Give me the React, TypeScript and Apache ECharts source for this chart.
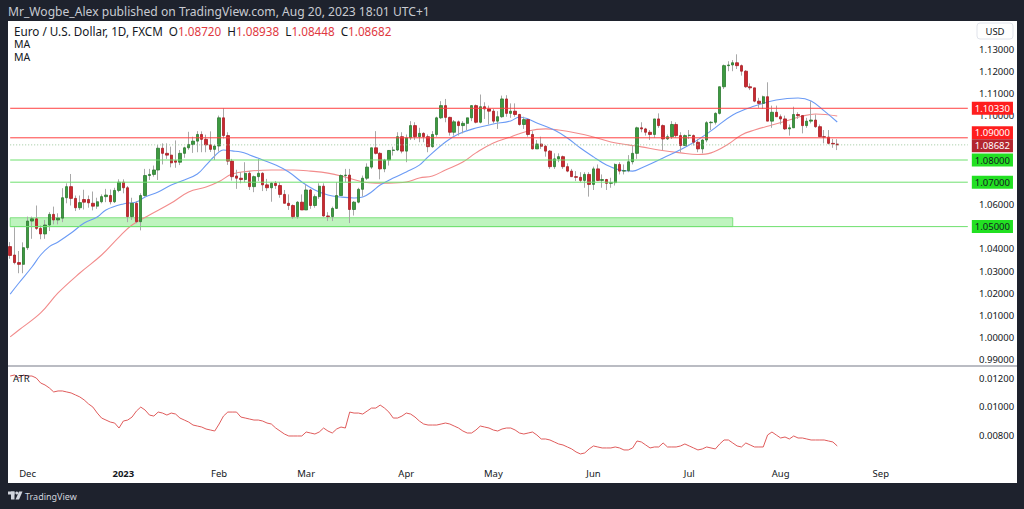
import React, { useEffect, useRef } from "react";
import * as echarts from "echarts";

// ---------- data ----------
const FIRST_DAY = "2022-11-25";
const SLOT_COUNT = 221; // trading days shown + empty future space on the time scale

// daily candles [open, high, low, close]
const nov22 = [
  [1.0410, 1.0430, 1.0355, 1.0370], [1.0372, 1.0497, 1.0330, 1.0338], [1.0338, 1.0390, 1.0290, 1.0330], [1.0330, 1.0429, 1.0290, 1.0405],
];
const dec22 = [
  [1.0405, 1.0545, 1.0395, 1.0525], [1.0525, 1.0545, 1.0445, 1.0535], [1.0535, 1.0595, 1.0485, 1.0492], [1.0492, 1.0505, 1.0443, 1.0467],
  [1.0467, 1.0530, 1.0445, 1.0507], [1.0507, 1.0565, 1.0480, 1.0555], [1.0555, 1.0590, 1.0510, 1.0530], [1.0530, 1.0560, 1.0510, 1.0538],
  [1.0538, 1.0673, 1.0520, 1.0630], [1.0630, 1.0695, 1.0605, 1.0680], [1.0680, 1.0737, 1.0595, 1.0627], [1.0627, 1.0640, 1.0570, 1.0585],
  [1.0585, 1.0640, 1.0575, 1.0608], [1.0622, 1.0666, 1.0577, 1.0610], [1.0622, 1.0640, 1.0585, 1.0607], [1.0605, 1.0658, 1.0573, 1.0592],
  [1.0592, 1.0630, 1.0580, 1.0612], [1.0612, 1.0645, 1.0605, 1.0635], [1.0635, 1.0670, 1.0610, 1.0642], [1.0640, 1.0667, 1.0600, 1.0612],
  [1.0612, 1.0675, 1.0606, 1.0663], [1.0663, 1.0713, 1.0655, 1.0700],
];
const jan23 = [
  [1.0700, 1.0713, 1.0650, 1.0675], [1.0675, 1.0683, 1.0520, 1.0545], [1.0545, 1.0630, 1.0530, 1.0605], [1.0605, 1.0615, 1.0515, 1.0522],
  [1.0522, 1.0650, 1.0483, 1.0640], [1.0640, 1.0760, 1.0635, 1.0730], [1.0730, 1.0760, 1.0710, 1.0735], [1.0735, 1.0775, 1.0725, 1.0755],
  [1.0755, 1.0868, 1.0710, 1.0853], [1.0853, 1.0875, 1.0780, 1.0830], [1.0830, 1.0875, 1.0805, 1.0822], [1.0822, 1.0860, 1.0767, 1.0787],
  [1.0797, 1.0888, 1.0765, 1.0790], [1.0790, 1.0845, 1.0777, 1.0830], [1.0830, 1.0860, 1.0810, 1.0855], [1.0855, 1.0927, 1.0846, 1.0870],
  [1.0870, 1.0905, 1.0832, 1.0885], [1.0885, 1.0930, 1.0835, 1.0915], [1.0915, 1.0929, 1.0835, 1.0893], [1.0893, 1.0914, 1.0835, 1.0868],
  [1.0868, 1.0929, 1.0836, 1.0848], [1.0848, 1.0870, 1.0800, 1.0863],
];
const feb23 = [
  [1.0863, 1.1000, 1.0838, 1.0990], [1.0990, 1.1033, 1.0897, 1.0910], [1.0910, 1.0925, 1.0778, 1.0795], [1.0795, 1.0805, 1.0707, 1.0725],
  [1.0728, 1.0756, 1.0670, 1.0718], [1.0718, 1.0745, 1.0695, 1.0712], [1.0712, 1.0790, 1.0700, 1.0740], [1.0740, 1.0750, 1.0665, 1.0680],
  [1.0680, 1.0730, 1.0655, 1.0725], [1.0725, 1.0805, 1.0705, 1.0740], [1.0740, 1.0745, 1.0660, 1.0688], [1.0688, 1.0715, 1.0660, 1.0675],
  [1.0675, 1.0700, 1.0612, 1.0695], [1.0695, 1.0705, 1.0670, 1.0685], [1.0685, 1.0700, 1.0630, 1.0645], [1.0645, 1.0665, 1.0605, 1.0605],
  [1.0605, 1.0645, 1.0575, 1.0595], [1.0595, 1.0600, 1.0535, 1.0545], [1.0545, 1.0615, 1.0535, 1.0610], [1.0610, 1.0645, 1.0575, 1.0575],
];
const mar23 = [
  [1.0575, 1.0690, 1.0575, 1.0665], [1.0665, 1.0670, 1.0580, 1.0595], [1.0595, 1.0645, 1.0585, 1.0635], [1.0635, 1.0695, 1.0625, 1.0682],
  [1.0682, 1.0695, 1.0545, 1.0548], [1.0548, 1.0565, 1.0525, 1.0545], [1.0545, 1.0590, 1.0525, 1.0582], [1.0582, 1.0700, 1.0580, 1.0640],
  [1.0640, 1.0735, 1.0640, 1.0730], [1.0730, 1.0760, 1.0700, 1.0732], [1.0732, 1.0760, 1.0516, 1.0577], [1.0577, 1.0615, 1.0550, 1.0610],
  [1.0610, 1.0675, 1.0605, 1.0668], [1.0668, 1.0730, 1.0635, 1.0718], [1.0718, 1.0785, 1.0710, 1.0768], [1.0768, 1.0855, 1.0760, 1.0855],
  [1.0855, 1.0930, 1.0825, 1.0830], [1.0830, 1.0835, 1.0713, 1.0760], [1.0760, 1.0805, 1.0745, 1.0800], [1.0800, 1.0845, 1.0775, 1.0843],
  [1.0843, 1.0860, 1.0820, 1.0845], [1.0845, 1.0925, 1.0840, 1.0905], [1.0905, 1.0925, 1.0830, 1.0840],
];
const apr23 = [
  [1.0840, 1.0915, 1.0790, 1.0900], [1.0900, 1.0975, 1.0890, 1.0955], [1.0955, 1.0970, 1.0890, 1.0905], [1.0905, 1.0945, 1.0880, 1.0920],
  [1.0920, 1.0925, 1.0880, 1.0905], [1.0905, 1.0915, 1.0835, 1.0860], [1.0860, 1.0930, 1.0855, 1.0915], [1.0915, 1.0995, 1.0905, 1.0990],
  [1.0990, 1.1065, 1.0985, 1.1045], [1.1045, 1.1075, 1.0970, 1.0992], [1.0992, 1.0995, 1.0910, 1.0925], [1.0925, 1.0980, 1.0910, 1.0972],
  [1.0972, 1.0978, 1.0910, 1.0955], [1.0955, 1.0975, 1.0920, 1.0965], [1.0965, 1.0990, 1.0935, 1.0990], [1.0990, 1.1047, 1.0975, 1.1045],
  [1.1045, 1.1050, 1.0965, 1.0970], [1.0970, 1.1095, 1.0965, 1.1040], [1.1040, 1.1060, 1.0985, 1.1030], [1.1030, 1.1045, 1.0960, 1.1020],
];
const may23 = [
  [1.1020, 1.1030, 1.0965, 1.0975], [1.0975, 1.1020, 1.0940, 1.0995], [1.0995, 1.1090, 1.0990, 1.1075], [1.1075, 1.1092, 1.0995, 1.1010],
  [1.1010, 1.1055, 1.0990, 1.1020], [1.1020, 1.1055, 1.0995, 1.1005], [1.1005, 1.1008, 1.0955, 1.0960], [1.0960, 1.0995, 1.0940, 1.0982],
  [1.0982, 1.0985, 1.0905, 1.0915], [1.0915, 1.0930, 1.0848, 1.0850], [1.0850, 1.0890, 1.0850, 1.0872], [1.0872, 1.0905, 1.0850, 1.0862],
  [1.0862, 1.0868, 1.0815, 1.0840], [1.0840, 1.0845, 1.0760, 1.0770], [1.0770, 1.0830, 1.0760, 1.0805], [1.0805, 1.0830, 1.0790, 1.0815],
  [1.0815, 1.0820, 1.0760, 1.0770], [1.0770, 1.0785, 1.0745, 1.0750], [1.0750, 1.0760, 1.0725, 1.0725], [1.0725, 1.0750, 1.0705, 1.0722],
  [1.0722, 1.0745, 1.0700, 1.0708], [1.0708, 1.0745, 1.0675, 1.0735], [1.0735, 1.0745, 1.0635, 1.0690],
];
const jun23 = [
  [1.0690, 1.0770, 1.0665, 1.0760], [1.0760, 1.0780, 1.0705, 1.0708], [1.0708, 1.0735, 1.0675, 1.0712], [1.0712, 1.0715, 1.0665, 1.0695],
  [1.0695, 1.0720, 1.0675, 1.0698], [1.0698, 1.0785, 1.0685, 1.0780], [1.0780, 1.0790, 1.0735, 1.0750], [1.0750, 1.0780, 1.0735, 1.0752],
  [1.0752, 1.0822, 1.0745, 1.0792], [1.0792, 1.0865, 1.0780, 1.0830], [1.0830, 1.0950, 1.0805, 1.0945], [1.0945, 1.0970, 1.0925, 1.0940],
  [1.0940, 1.0945, 1.0910, 1.0925], [1.0925, 1.0935, 1.0890, 1.0915], [1.0915, 1.0985, 1.0900, 1.0985], [1.0985, 1.1010, 1.0945, 1.0955],
  [1.0955, 1.0960, 1.0845, 1.0895], [1.0895, 1.0915, 1.0890, 1.0905], [1.0905, 1.0975, 1.0895, 1.0960], [1.0960, 1.0970, 1.0900, 1.0910],
  [1.0910, 1.0925, 1.0835, 1.0865], [1.0865, 1.0915, 1.0865, 1.0910],
];
const jul23 = [
  [1.0910, 1.0935, 1.0895, 1.0912], [1.0910, 1.0915, 1.0865, 1.0880], [1.0880, 1.0895, 1.0835, 1.0850], [1.0850, 1.0895, 1.0830, 1.0890],
  [1.0890, 1.0975, 1.0880, 1.0968], [1.0968, 1.0975, 1.0935, 1.0970], [1.0970, 1.1015, 1.0960, 1.1010], [1.1010, 1.1130, 1.1005, 1.1130],
  [1.1130, 1.1230, 1.1120, 1.1225], [1.1225, 1.1245, 1.1200, 1.1228], [1.1228, 1.1250, 1.1200, 1.1238], [1.1238, 1.1276, 1.1210, 1.1225],
  [1.1225, 1.1230, 1.1180, 1.1200], [1.1200, 1.1205, 1.1125, 1.1130], [1.1130, 1.1145, 1.1115, 1.1125], [1.1125, 1.1125, 1.1060, 1.1065],
  [1.1065, 1.1080, 1.1035, 1.1055], [1.1055, 1.1090, 1.1030, 1.1085], [1.1085, 1.1150, 1.0975, 1.0975], [1.0975, 1.1045, 1.0945, 1.1015],
  [1.1015, 1.1045, 1.0995, 1.0995],
];
const aug23 = [
  [1.0995, 1.1005, 1.0960, 1.0985], [1.0985, 1.1000, 1.0935, 1.0940], [1.0940, 1.0960, 1.0910, 1.0945], [1.0945, 1.1040, 1.0945, 1.1005],
  [1.1005, 1.1015, 1.0985, 1.1000], [1.1000, 1.1000, 1.0920, 1.0955], [1.0955, 1.0990, 1.0945, 1.0975], [1.0975, 1.1065, 1.0965, 1.0980],
  [1.0980, 1.1005, 1.0945, 1.0950], [1.0950, 1.0960, 1.0905, 1.0905], [1.0905, 1.0935, 1.0875, 1.0903], [1.0903, 1.0935, 1.0870, 1.0875],
  [1.0875, 1.0895, 1.0855, 1.0872], [1.08720, 1.08938, 1.08448, 1.08682],
];

// ATR per trading day
const atrNovDec = [0.01214, 0.01221, 0.01200, 0.01221,
  0.01214, 0.01214, 0.01200, 0.01165, 0.01151, 0.01130, 0.01102, 0.01109, 0.01109, 0.01102, 0.01095,
  0.01081, 0.01067, 0.01046, 0.01018, 0.00996, 0.00954, 0.00919, 0.00905, 0.00891, 0.00884, 0.00849];
const atrJanFeb = [0.00898, 0.00905, 0.00926, 0.00968, 0.00996, 0.00975, 0.00940, 0.00933, 0.00961, 0.00954, 0.00940,
  0.00954, 0.00947, 0.00919, 0.00905, 0.00891, 0.00870, 0.00863, 0.00856, 0.00842, 0.00835, 0.00828,
  0.00877, 0.00933, 0.00961, 0.00961, 0.00961, 0.00926, 0.00919, 0.00912, 0.00905, 0.00905, 0.00898, 0.00884,
  0.00877, 0.00849, 0.00828, 0.00807, 0.00793, 0.00793, 0.00793, 0.00793];
const atrMarApr = [0.00821, 0.00814, 0.00807, 0.00821, 0.00849, 0.00828, 0.00814, 0.00842, 0.00856, 0.00849, 0.00961,
  0.00954, 0.00954, 0.00947, 0.00968, 0.00989, 0.00989, 0.01010, 0.00989, 0.00961, 0.00919, 0.00919, 0.00933,
  0.00954, 0.00947, 0.00926, 0.00898, 0.00877, 0.00870, 0.00870, 0.00870, 0.00877, 0.00884, 0.00877, 0.00863,
  0.00849, 0.00828, 0.00814, 0.00814, 0.00835, 0.00863, 0.00856, 0.00849];
const atrMayJun = [0.00835, 0.00828, 0.00842, 0.00849, 0.00849, 0.00835, 0.00814, 0.00807, 0.00814, 0.00821, 0.00800,
  0.00772, 0.00772, 0.00765, 0.00751, 0.00737, 0.00730, 0.00716, 0.00702, 0.00681, 0.00667, 0.00674, 0.00702,
  0.00723, 0.00716, 0.00709, 0.00709, 0.00709, 0.00716, 0.00709, 0.00695, 0.00695, 0.00709, 0.00758, 0.00751,
  0.00730, 0.00709, 0.00716, 0.00716, 0.00744, 0.00716, 0.00716, 0.00716, 0.00723, 0.00737];
const atrJulAug = [0.00723, 0.00709, 0.00695, 0.00702, 0.00716, 0.00709, 0.00702, 0.00737, 0.00765, 0.00765, 0.00744,
  0.00723, 0.00716, 0.00744, 0.00730, 0.00716, 0.00716, 0.00716, 0.00800, 0.00821, 0.00800,
  0.00779, 0.00786, 0.00772, 0.00793, 0.00779, 0.00779, 0.00772, 0.00765, 0.00765, 0.00765, 0.00765, 0.00758,
  0.00751, 0.00723];

// moving averages: [bar index, value]
const maFast = [[0, 1.0196], [2, 1.0246], [5, 1.0318], [7, 1.0372], [9, 1.0410], [11, 1.0431], [14, 1.0471], [17, 1.0516],
  [20, 1.0543], [22, 1.0575], [26, 1.0602], [29, 1.0611], [31, 1.0633], [34, 1.0656], [37, 1.0687], [40, 1.0710],
  [43, 1.0737], [45, 1.0777], [47, 1.0818], [49, 1.0845], [51, 1.0841], [53, 1.0836], [55, 1.0823], [58, 1.0800],
  [61, 1.0777], [64, 1.0746], [67, 1.0701], [70, 1.0665], [73, 1.0642], [76, 1.0633], [79, 1.0629], [81, 1.0633],
  [83, 1.0656], [85, 1.0687], [88, 1.0719], [91, 1.0746], [94, 1.0777], [96, 1.0814], [100, 1.0881], [103, 1.0917],
  [107, 1.0944], [111, 1.0962], [115, 1.0976], [117, 1.0994], [119, 1.0985], [121, 1.0967], [125, 1.0935], [128, 1.0899],
  [131, 1.0854], [134, 1.0814], [137, 1.0777], [140, 1.0755], [143, 1.0750], [145, 1.0764], [150, 1.0809], [156, 1.0868],
  [161, 1.0931], [166, 1.1003], [171, 1.1043], [176, 1.1070], [181, 1.1079], [184, 1.1066], [187, 1.1021], [190, 1.0971]];
const maSlow = [[0, 1.0003], [2, 1.0034], [7, 1.0111], [11, 1.0201], [16, 1.0291], [21, 1.0372], [25, 1.0453], [28, 1.0507],
  [32, 1.0552], [37, 1.0606], [41, 1.0656], [45, 1.0678], [48, 1.0703], [51, 1.0737], [55, 1.0750], [60, 1.0755],
  [65, 1.0755], [69, 1.0750], [73, 1.0741], [77, 1.0723], [81, 1.0701], [84, 1.0696], [87, 1.0696], [91, 1.0701],
  [94, 1.0719], [97, 1.0728], [100, 1.0755], [104, 1.0791], [107, 1.0832], [111, 1.0877], [115, 1.0904], [119, 1.0931],
  [123, 1.0940], [126, 1.0935], [130, 1.0922], [134, 1.0904], [138, 1.0881], [142, 1.0868], [145, 1.0859], [149, 1.0845],
  [154, 1.0832], [158, 1.0825], [161, 1.0832], [165, 1.0872], [168, 1.0913], [171, 1.0935], [175, 1.0958], [179, 1.0980],
  [182, 1.0998], [185, 1.1007], [190, 1.0998]];

// drawn levels
const resistanceLevels = [1.1033, 1.09];
const supportLevels = [1.08, 1.07, 1.05];
const supportZone = { from: 1.05, to: 1.054, endBar: 166 };
const priceTicks = { min: 0.98, max: 1.15, step: 0.01, shownMin: 0.99, shownMax: 1.13 };
const atrTicks = { min: 0.006, max: 0.014, step: 0.002, shownMin: 0.008, shownMax: 0.012 };
const MONTHS = ["Jan", "Feb", "Mar", "Apr", "May", "Jun", "Jul", "Aug", "Sep", "Oct", "Nov", "Dec"];

// ---------- helpers ----------
function weekdaySlots(first: string, count: number): string[] {
  const out: string[] = [];
  const d = new Date(first + "T00:00:00Z");
  while (out.length < count) {
    const wd = d.getUTCDay();
    if (wd !== 0 && wd !== 6) out.push(d.toISOString().slice(0, 10));
    d.setUTCDate(d.getUTCDate() + 1);
  }
  return out;
}

const FONT = "'Noto Sans', 'DejaVu Sans', sans-serif";
const UP = "#3d9a40";
const UP_B = "#2c7a30";
const DOWN = "#c9282f";
const DOWN_B = "#a81e25";
const RED_LINE = "#ff4040";
const GREEN_LINE = "#6fe06f";

function buildOption() {
  const dates = weekdaySlots(FIRST_DAY, SLOT_COUNT);
  const firstDate = dates[0];
  const lastDate = dates[dates.length - 1];
  const candles = [...nov22, ...dec22, ...jan23, ...feb23, ...mar23, ...apr23, ...may23, ...jun23, ...jul23, ...aug23];
  const atr = [...atrNovDec, ...atrJanFeb, ...atrMarApr, ...atrMayJun, ...atrJulAug];
  const last = candles[candles.length - 1];

  const wickData = candles.map(([o, h, l, c]) => [o, c, l, h]);
  const bodyData = candles.map(([o, , , c]) => [o, c, Math.min(o, c), Math.max(o, c)]);

  const isMonthStart = (i: number) => i > 0 && dates[i].slice(5, 7) !== dates[i - 1].slice(5, 7);

  // price-scale ticks hidden behind a level's price box (as on the reference)
  const boxedLevels = [1.09, ...supportLevels];

  // a horizontal level drawn as a two-point line series, with its price box as the end label
  const level = (v: number, color: string, type: any, bg: string, fg: string, dy: number, z: number) => ({
    name: "level " + v,
    type: "line",
    xAxisIndex: 0,
    yAxisIndex: 0,
    data: [[firstDate, v], [lastDate, v]],
    showSymbol: false,
    silent: true,
    z,
    lineStyle: { color, width: 1, type },
    endLabel: {
      show: true,
      distance: 4,
      formatter: () => v.toFixed(5),
      backgroundColor: bg,
      color: fg,
      fontFamily: FONT,
      fontSize: 9.5,
      padding: [2, 3, 1, 3],
      offset: [0, dy],
    },
  });

  const priceFmt = (t: any, hidden: number[]) => (v: number) => {
    if (v < t.shownMin - 1e-9 || v > t.shownMax + 1e-9) return "";
    if (hidden.some((h) => Math.abs(h - v) < 1e-6)) return "";
    return v.toFixed(5);
  };

  const gridLeft = 8;
  const gridWidth = 962;

  return {
    animation: false,
    backgroundColor: "#1e222d",
    textStyle: { fontFamily: FONT },
    grid: [
      { left: gridLeft, width: gridWidth, top: 4.6, height: 377.4 },
      { left: gridLeft, width: gridWidth, top: 349.5, height: 114 },
    ],
    xAxis: [
      { type: "category", gridIndex: 0, data: dates, boundaryGap: true, show: false },
      {
        type: "category",
        gridIndex: 1,
        data: dates,
        boundaryGap: true,
        axisLine: { show: false },
        axisTick: { show: false },
        splitLine: { show: false },
        axisLabel: {
          interval: (i: number) => isMonthStart(i),
          margin: 5,
          color: "#131722",
          fontSize: 9.5,
          fontFamily: FONT,
          formatter: (v: string) => {
            const m = +v.slice(5, 7);
            return m === 1 ? "{y|" + v.slice(0, 4) + "}" : MONTHS[m - 1];
          },
          rich: { y: { fontWeight: "bold", fontSize: 9.5, color: "#131722", fontFamily: FONT } },
        },
      },
    ],
    yAxis: [
      {
        type: "value",
        gridIndex: 0,
        position: "right",
        min: priceTicks.min,
        max: priceTicks.max,
        interval: priceTicks.step,
        axisLine: { show: false },
        axisTick: { show: false },
        splitLine: { show: false },
        axisLabel: { margin: 9, color: "#131722", fontSize: 9.5, fontFamily: FONT, formatter: priceFmt(priceTicks, boxedLevels) },
      },
      {
        type: "value",
        gridIndex: 1,
        position: "right",
        min: atrTicks.min,
        max: atrTicks.max,
        interval: atrTicks.step,
        axisLine: { show: false },
        axisTick: { show: false },
        splitLine: { show: false },
        axisLabel: { margin: 9, color: "#131722", fontSize: 9.5, fontFamily: FONT, formatter: priceFmt(atrTicks, []) },
      },
    ],
    series: [
      {
        name: "zone",
        type: "line",
        xAxisIndex: 0,
        yAxisIndex: 0,
        data: [],
        markArea: {
          silent: true,
          itemStyle: { color: "rgba(110, 230, 110, 0.45)", borderColor: "rgba(90, 215, 90, 0.7)", borderWidth: 1 },
          data: [[{ xAxis: firstDate, yAxis: supportZone.from }, { xAxis: dates[supportZone.endBar], yAxis: supportZone.to }]],
        },
      },
      ...supportLevels.map((v) => level(v, GREEN_LINE, "solid", "#22e022", "#131722", 0, 6)),
      ...resistanceLevels.map((v, k) => level(v, RED_LINE, "solid", "#ff1e1e", "#ffffff", k === 1 ? -5 : 0, 7)),
      level(last[3], "#9cc79c", [1, 2], "#b3262f", "#ffffff", 1, 8),
      {
        name: "MA slow",
        type: "line",
        xAxisIndex: 0,
        yAxisIndex: 0,
        data: maSlow.map(([i, v]) => [dates[i], v]),
        smooth: 0.4,
        showSymbol: false,
        lineStyle: { color: "#f28c8c", width: 1.1 },
        z: 3,
      },
      {
        name: "MA fast",
        type: "line",
        xAxisIndex: 0,
        yAxisIndex: 0,
        data: maFast.map(([i, v]) => [dates[i], v]),
        smooth: 0.4,
        showSymbol: false,
        lineStyle: { color: "#6b9bf5", width: 1.1 },
        z: 3,
      },
      {
        name: "wicks",
        type: "candlestick",
        xAxisIndex: 0,
        yAxisIndex: 0,
        data: wickData,
        barWidth: 0.6,
        itemStyle: { color: "#a8a8a8", color0: "#a8a8a8", borderColor: "#a8a8a8", borderColor0: "#a8a8a8", borderWidth: 1 },
        z: 4,
      },
      {
        name: "EURUSD",
        type: "candlestick",
        xAxisIndex: 0,
        yAxisIndex: 0,
        data: bodyData,
        barWidth: 2.9,
        itemStyle: { color: UP, color0: DOWN, borderColor: UP_B, borderColor0: DOWN_B, borderWidth: 0.8 },
        z: 5,
      },
      {
        name: "ATR",
        type: "line",
        xAxisIndex: 1,
        yAxisIndex: 1,
        data: atr,
        showSymbol: false,
        lineStyle: { color: "#e05c5c", width: 1 },
        z: 3,
      },
    ],
    graphic: [
      { type: "rect", z: -10, shape: { x: 8, y: 21, width: 1009, height: 462 }, style: { fill: "#ffffff" } },
      { type: "line", z: 50, shape: { x1: 8, y1: 366, x2: 1017, y2: 366 }, style: { stroke: "#a3a6af", lineWidth: 1.5 } },
      {
        type: "text", z: 50, x: 8, y: 11,
        style: { text: "Mr_Wogbe_Alex published on TradingView.com, Aug 20, 2023 18:01 UTC+1", fill: "#c8cbd2", font: `12.1px ${FONT}`, verticalAlign: "middle" },
      },
      {
        type: "text", z: 50, x: 14, y: 31,
        style: {
          text: `{n|Euro / U.S. Dollar, 1D, FXCM}  {n|O}{v|${last[0].toFixed(5)}}  {n|H}{v|${last[1].toFixed(5)}}  {n|L}{v|${last[2].toFixed(5)}}  {n|C}{v|${last[3].toFixed(5)}}`,
          verticalAlign: "middle",
          font: `11.7px ${FONT}`,
          lineHeight: 12,
          rich: {
            n: { fill: "#131722", fontSize: 11.7, fontFamily: FONT, lineHeight: 12 },
            v: { fill: "#e0393f", fontSize: 11.7, fontFamily: FONT, lineHeight: 12 },
          },
        },
      },
      { type: "text", z: 50, x: 14, y: 44, style: { text: "MA", fill: "#131722", font: `10.5px ${FONT}`, lineHeight: 11, verticalAlign: "middle" } },
      { type: "text", z: 50, x: 14, y: 56.5, style: { text: "MA", fill: "#131722", font: `10.5px ${FONT}`, lineHeight: 11, verticalAlign: "middle" } },
      { type: "rect", z: 50, shape: { x: 977, y: 23, width: 36, height: 16, r: 3 }, style: { fill: "#ffffff", stroke: "#e0e3eb", lineWidth: 1 } },
      { type: "text", z: 51, x: 995, y: 31.5, style: { text: "USD", fill: "#131722", font: `9.5px ${FONT}`, align: "center", verticalAlign: "middle" } },
      { type: "text", z: 50, x: 13, y: 378, style: { text: "ATR", fill: "#131722", font: `9.5px ${FONT}`, verticalAlign: "middle" } },
      {
        type: "group", z: 50,
        children: [
          { type: "rect", shape: { x: 8, y: 491.5, width: 6.5, height: 3 }, style: { fill: "#d1d4dc" } },
          { type: "rect", shape: { x: 11, y: 491.5, width: 3.5, height: 8 }, style: { fill: "#d1d4dc" } },
          { type: "circle", shape: { cx: 16.8, cy: 493, r: 1.5 }, style: { fill: "#d1d4dc" } },
          { type: "polygon", shape: { points: [[19, 491.5], [22.5, 491.5], [19, 499.5], [15.5, 499.5]] }, style: { fill: "#d1d4dc" } },
        ],
      },
      { type: "text", z: 50, x: 25, y: 496, style: { text: "TradingView", fill: "#d1d4dc", font: `9px ${FONT}`, verticalAlign: "middle" } },
    ],
  };
}

export default function App() {
  const ref = useRef<HTMLDivElement>(null);
  useEffect(() => {
    if (!ref.current) return;
    const chart = echarts.init(ref.current, null, { renderer: "svg" });
    chart.setOption(buildOption() as any);
    return () => chart.dispose();
  }, []);
  return (
    <div style={{ position: "fixed", left: 0, top: 0, width: 1024, height: 509, background: "#1e222d" }}>
      <div ref={ref} style={{ width: 1024, height: 509 }} />
    </div>
  );
}
